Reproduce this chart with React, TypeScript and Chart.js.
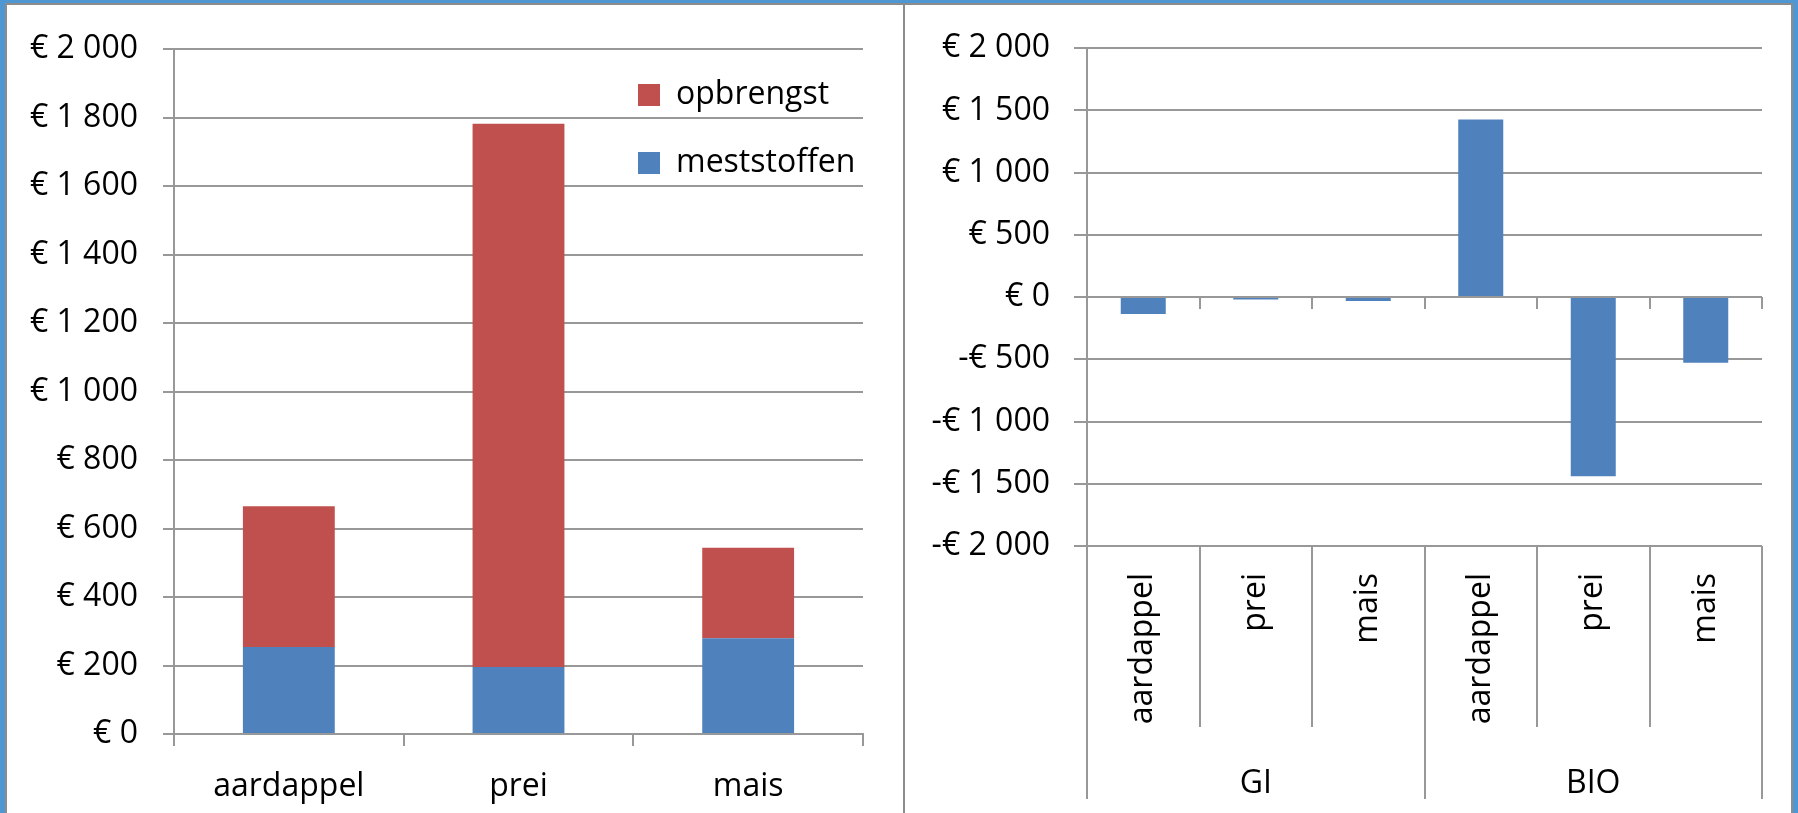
import React, { useEffect, useRef } from 'react';
import { Chart, registerables } from 'chart.js';

Chart.register(...registerables);

// ---------- data ----------
const leftCategories = ['aardappel', 'prei', 'mais'];
const meststoffen = [254, 196, 280];
const opbrengst = [411, 1586, 264];
const leftMin = 0;
const leftMax = 2000;
const leftStep = 200;

const rightGroups = ['GI', 'BIO'];
const rightCrops = ['aardappel', 'prei', 'mais'];
const giValues = [-135, -20, -32];
const bioValues = [1428, -1439, -527];
const rightMin = -2000;
const rightMax = 2000;
const rightStep = 500;

// ---------- styles ----------
const BLUE = '#4F81BD';
const RED = '#C0504D';
const GRID = '#989898';
const TEXT = '#000000';
const FONT = { family: '"Open Sans", sans-serif', size: 32 };

const fmtEuro = (v: number) => {
  const a = Math.abs(v);
  const s = String(a).replace(/\B(?=(\d{3})+(?!\d))/g, ' ');
  return (v < 0 ? '-€ ' : '€ ') + s;
};

const legendPlace = {
  id: 'legendPlace',
  afterLayout(chart: any) {
    const l = chart.legend;
    if (!l) return;
    const w = l.width;
    l.left = 595;
    l.right = 595 + w;
    l.top = 38;
    l.bottom = 38 + 400;
    l.height = 400;
  },
};

const groupLines = {
  id: 'groupLines',
  afterDraw(chart: any) {
    const x = chart.scales.x;
    const x2 = chart.scales.x2;
    const y = chart.scales.y;
    const ctx = chart.ctx;
    const n = x.ticks.length;
    const per = rightCrops.length;
    const bounds: number[] = [];
    for (let i = 0; i <= n; i++) {
      if (i === 0) bounds.push(x.left);
      else if (i === n) bounds.push(x.right);
      else bounds.push((x.getPixelForValue(i - 1) + x.getPixelForValue(i)) / 2);
    }
    const zero = y.getPixelForValue(0);
    ctx.save();
    ctx.strokeStyle = GRID;
    ctx.lineWidth = 2;
    bounds.forEach((b, i) => {
      const bx = Math.round(b);
      ctx.beginPath();
      ctx.moveTo(bx, zero);
      ctx.lineTo(bx, zero + 12);
      ctx.stroke();
      const bottom = i % per === 0 ? x2.bottom : x.bottom;
      ctx.beginPath();
      ctx.moveTo(bx, x.top);
      ctx.lineTo(bx, bottom);
      ctx.stroke();
    });
    ctx.restore();
  },
};

function LeftChart() {
  const ref = useRef<HTMLCanvasElement>(null);
  useEffect(() => {
    const chart = new Chart(ref.current as HTMLCanvasElement, {
      type: 'bar',
      data: {
        labels: leftCategories,
        datasets: [
          { label: 'meststoffen', data: meststoffen, backgroundColor: BLUE, barPercentage: 0.4, categoryPercentage: 1 },
          { label: 'opbrengst', data: opbrengst, backgroundColor: RED, barPercentage: 0.4, categoryPercentage: 1 },
        ],
      },
      options: {
        responsive: false,
        animation: false,
        devicePixelRatio: 1,
        events: [],
        layout: { padding: { left: 0, top: 42, right: 40, bottom: 0 } },
        plugins: {
          tooltip: { enabled: false },
          legend: {
            position: 'chartArea' as any,
            align: 'start',
            reverse: true,
            labels: { boxWidth: 22, boxHeight: 22, padding: 36, font: FONT, color: TEXT },
          },
        },
        scales: {
          x: {
            stacked: true,
            grid: { offset: true, drawOnChartArea: false, tickLength: 12, color: GRID, lineWidth: 2 },
            border: { display: true, color: GRID, width: 2 },
            ticks: { font: FONT, color: TEXT, padding: 22, maxRotation: 0 },
            afterFit: (s: any) => { s.height = 79; },
          },
          y: {
            stacked: true,
            min: leftMin,
            max: leftMax,
            ticks: { stepSize: leftStep, callback: (v: any) => fmtEuro(Number(v)), font: FONT, color: TEXT, padding: 25 },
            grid: { color: GRID, lineWidth: 2, tickLength: 11 },
            border: { color: GRID, width: 2 },
            afterFit: (s: any) => { s.width = 167; },
          },
        },
      },
      plugins: [legendPlace],
    });
    return () => chart.destroy();
  }, []);
  return <canvas ref={ref} width={896} height={808} style={{ position: 'absolute', left: 7, top: 5, width: 896, height: 808 }} />;
}

function RightChart() {
  const ref = useRef<HTMLCanvasElement>(null);
  useEffect(() => {
    const labels = rightGroups.flatMap(() => rightCrops);
    const values = [...giValues, ...bioValues];
    const chart = new Chart(ref.current as HTMLCanvasElement, {
      type: 'bar',
      data: {
        labels,
        datasets: [{ label: 'verschil', data: values, backgroundColor: BLUE, barPercentage: 0.4, categoryPercentage: 1 }],
      },
      options: {
        responsive: false,
        animation: false,
        devicePixelRatio: 1,
        events: [],
        layout: { padding: { left: 0, top: 42, right: 29, bottom: 14 } },
        plugins: { tooltip: { enabled: false }, legend: { display: false } },
        scales: {
          x: {
            weight: 0,
            grid: { display: false },
            border: { display: false },
            ticks: { minRotation: 90, maxRotation: 90, autoSkip: false, font: FONT, color: TEXT, padding: 19 },
            afterFit: (s: any) => { s.height = 181; },
          },
          x2: {
            type: 'category',
            labels: rightGroups,
            position: 'bottom',
            offset: true,
            weight: 1,
            grid: { display: false },
            border: { display: false },
            ticks: { font: FONT, color: TEXT, padding: 30, maxRotation: 0 },
            afterFit: (s: any) => { s.height = 72; },
          } as any,
          y: {
            min: rightMin,
            max: rightMax,
            ticks: { stepSize: rightStep, callback: (v: any) => fmtEuro(Number(v)), font: FONT, color: TEXT, padding: 24 },
            grid: { color: GRID, lineWidth: 2, tickLength: 13 },
            border: { color: GRID, width: 2 },
            afterFit: (s: any) => { s.width = 182; },
          },
        },
      },
      plugins: [groupLines],
    });
    return () => chart.destroy();
  }, []);
  return <canvas ref={ref} width={886} height={808} style={{ position: 'absolute', left: 905, top: 5, width: 886, height: 808 }} />;
}

export default function App() {
  const frameBlue = '#4f97d3';
  const frameGray = '#8c8c8c';
  return (
    <div style={{ position: 'fixed', left: 0, top: 0, width: 1798, height: 813, overflow: 'hidden', background: '#ffffff' }}>
      <LeftChart />
      <RightChart />
      <div style={{ position: 'absolute', left: 0, top: 0, width: 1798, height: 3, background: frameBlue }} />
      <div style={{ position: 'absolute', left: 0, top: 3, width: 1798, height: 2, background: frameGray }} />
      <div style={{ position: 'absolute', left: 0, top: 0, width: 5, height: 813, background: frameBlue }} />
      <div style={{ position: 'absolute', left: 5, top: 3, width: 2, height: 810, background: frameGray }} />
      <div style={{ position: 'absolute', left: 1793, top: 0, width: 5, height: 813, background: frameBlue }} />
      <div style={{ position: 'absolute', left: 1791, top: 3, width: 2, height: 810, background: frameGray }} />
      <div style={{ position: 'absolute', left: 903, top: 3, width: 2, height: 810, background: frameGray }} />
    </div>
  );
}
